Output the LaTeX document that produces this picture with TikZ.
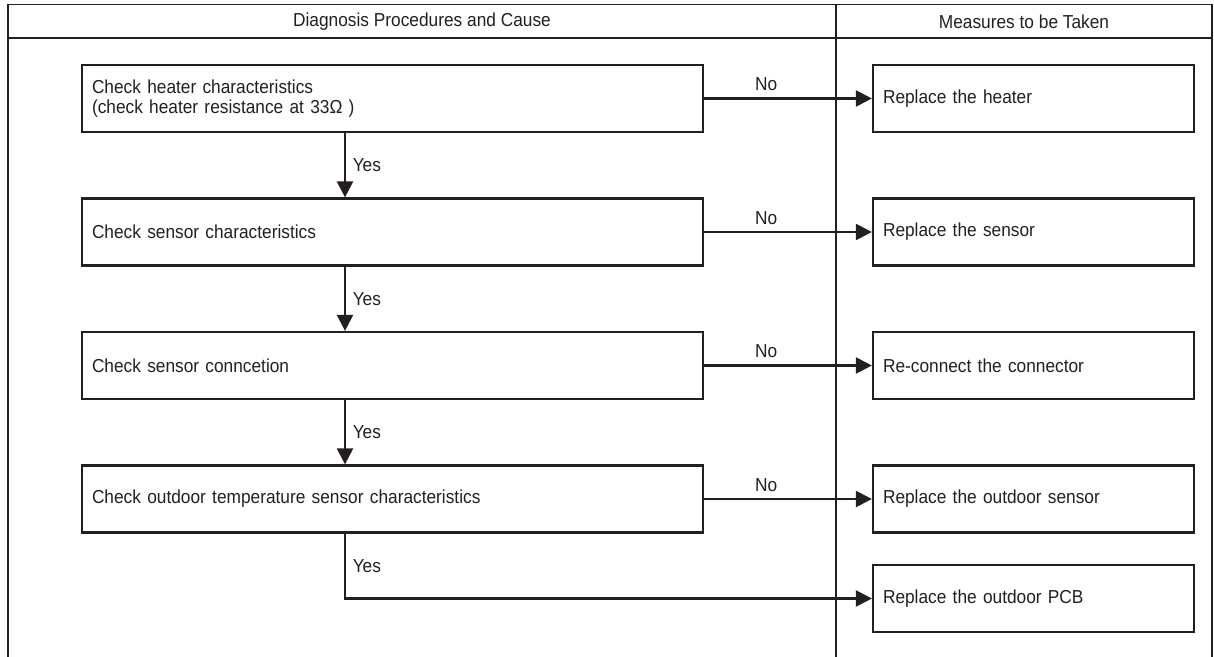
\documentclass[tikz,border=0pt]{standalone}
\usepackage{fontspec}
\setmainfont{Liberation Sans}[FakeStretch=0.92]
\usetikzlibrary{arrows.meta}

\definecolor{ink}{RGB}{35,31,32}

\tikzset{
  chkbox/.style={draw=ink, line width=1.1pt, minimum height=33.5pt, text width=300.5pt, inner xsep=5pt, align=left},
  actbox/.style={draw=ink, line width=1.1pt, minimum height=33.5pt, text width=150.5pt, inner xsep=5pt, align=left},
  flow/.style={draw=ink, line width=1.1pt, -{Triangle[length=8pt,width=8pt]}},
  tline/.style={draw=ink, line width=0.8pt},
}

\begin{document}
\begin{tikzpicture}[x=0.5pt,y=-0.5pt,font=\fontsize{9.4}{10}\selectfont,text=ink]
\useasboundingbox (0,0) rectangle (1214,657);
% table frame
\draw[tline] (8,657) -- (8,4.5) -- (1212,4.5) -- (1212,657);
\draw[tline] (8,38) -- (1212,38);
\draw[tline] (836,4.5) -- (836,657);
\node (head1) at (422,21.5) {Diagnosis Procedures and Cause};
\node (head2) at (1024,21.5) {Measures to be Taken};
% checks
\node[chkbox] (chk1) at (392.5,98.5) {Check heater characteristics\\(check heater resistance at 33Ω )};
\node[chkbox] (chk2) at (392.5,232) {Check sensor characteristics};
\node[chkbox] (chk3) at (392.5,365.5) {Check sensor conncetion};
\node[chkbox] (chk4) at (392.5,499) {Check outdoor temperature sensor characteristics};
% measures
\node[actbox] (act1) at (1033.5,98.5) {Replace the heater};
\node[actbox] (act2) at (1033.5,232) {Replace the sensor};
\node[actbox] (act3) at (1033.5,365.5) {Re-connect the connector};
\node[actbox] (act4) at (1033.5,499) {Replace the outdoor sensor};
\node[actbox] (act5) at (1033.5,598.5) {Replace the outdoor PCB};
% arrows
\coordinate (yes) at (345,0);
\draw[flow] (chk1) -- node[pos=0.37,above]{No} (act1);
\draw[flow] (chk2) -- node[pos=0.37,above]{No} (act2);
\draw[flow] (chk3) -- node[pos=0.37,above]{No} (act3);
\draw[flow] (chk4) -- node[pos=0.37,above]{No} (act4);
\draw[flow] (chk1.south -| yes) -- node[right]{Yes} (chk2.north -| yes);
\draw[flow] (chk2.south -| yes) -- node[right]{Yes} (chk3.north -| yes);
\draw[flow] (chk3.south -| yes) -- node[right]{Yes} (chk4.north -| yes);
\draw[flow] (chk4.south -| yes) -- node[right]{Yes} (yes |- act5) -- (act5);
\end{tikzpicture}
\end{document}
